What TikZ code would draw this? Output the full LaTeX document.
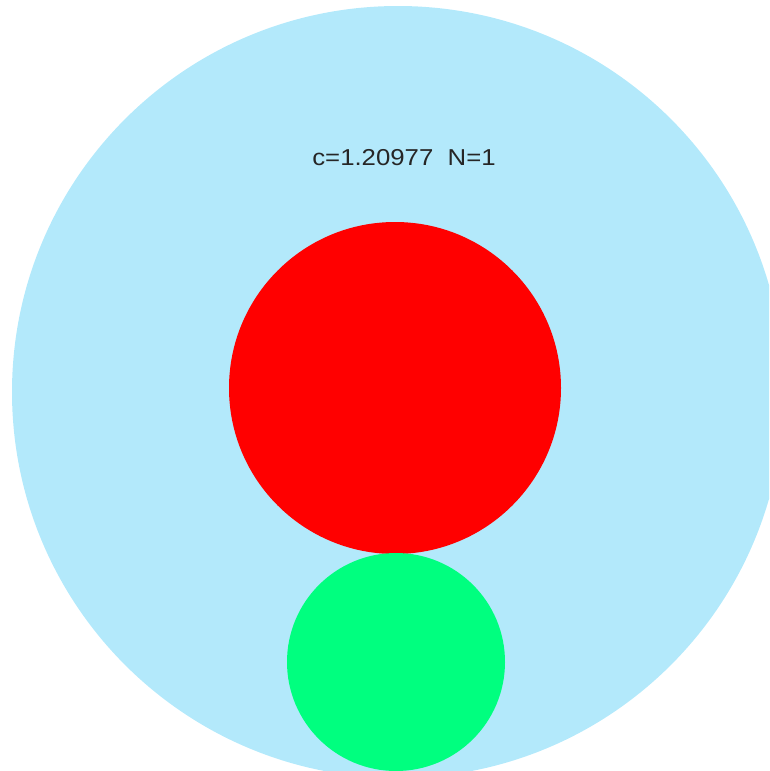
\documentclass[tikz,border=0pt]{standalone}
\usepackage{fontspec}
\setmainfont{Liberation Sans}
\definecolor{bigblue}{RGB}{179,233,251}
\definecolor{redc}{RGB}{255,0,0}
\definecolor{greenc}{RGB}{0,255,127}
\begin{document}
\begin{tikzpicture}[x=1pt,y=-1pt,
  disc/.style={circle,inner sep=0pt,outer sep=0pt,draw=none},
  lbl/.style={inner sep=0pt,text=black!85}]
\useasboundingbox (0,0) rectangle (769,771);
\clip (0,0) rectangle (769,771);
\node[disc,fill=bigblue,minimum size=772pt] (outer) at (398,392) {};
\node[disc,fill=redc,minimum size=332pt] (red) at (395,388) {};
\node[disc,fill=greenc,minimum size=218pt] (green) at (396,662) {};
\node[lbl,font=\fontsize{23}{27}\selectfont] (title) at (404,158) {\scalebox{1.12}[1]{c=1.20977\ \ N=1}};
\end{tikzpicture}
\end{document}
